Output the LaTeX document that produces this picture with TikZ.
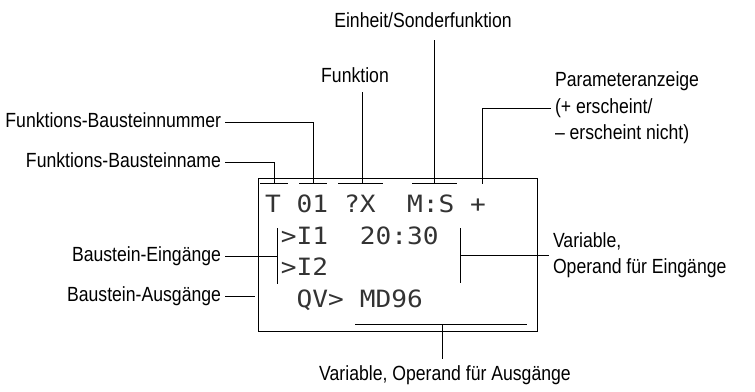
\documentclass[tikz,border=0pt]{standalone}
\usepackage{fontspec}
\usepackage{tikz}
\usetikzlibrary{positioning}
\newfontfamily\lblfont[FakeStretch=0.86]{Liberation Sans}
\newfontfamily\lcdfont[FakeStretch=1.1]{DejaVu Sans Mono}
\definecolor{LcdInk}{HTML}{333333}

\begin{document}
\begin{tikzpicture}[x=1pt,y=-1pt,
  lbl/.style={font=\lblfont\fontsize{20.5}{26}\selectfont,inner sep=0pt,outer sep=4pt,
              text height=14.5pt,text depth=4pt},
  note/.style={font=\lblfont\fontsize{20.5}{26.5}\selectfont,inner sep=0pt,outer sep=4pt,
               align=left,anchor=west},
  lcd/.style={draw,line width=0.9pt,minimum width=279pt,minimum height=153pt,
              inner sep=0pt},
  row/.style={font=\lcdfont\fontsize{23.8}{24}\selectfont,text=LcdInk,
              anchor=base west,inner sep=0pt},
  lead/.style={line width=0.8pt}]
\useasboundingbox (0,0) rectangle (755,391);
\node[lcd] (disp) at (397.5,254.5) {};
\node[row] (r1) at (265,212) {T~01~?X~~M:S~+};
\node[row] (r2) at (265,244) {~>I1~~20:30};
\node[row] (r3) at (265,275) {~>I2};
\node[row] (r4) at (265,307) {~~QV>~MD96};
\draw[lead] (260,183.5) -- (288,183.5) (299,183.5) -- (327,183.5)
            (338,183.5) -- (383,183.5) (412,183.5) -- (457,183.5);
\draw[lead] (277,228) -- (277,284) (460,228) -- (460,283) (355,324) -- (527,324);
\coordinate (cT) at (274,183.5);
\coordinate (cNr) at (313,183.5);
\coordinate (cFn) at (362,183.5);
\coordinate (cMS) at (434,183.5);
\coordinate (cPl) at (482,183.5);
\coordinate (cIn) at (277,256);
\coordinate (cOut) at (255,296);
\coordinate (cVar) at (460,255);
\coordinate (cAus) at (442,324);
\node[lbl,anchor=east] (bname) at (225,162) {Funktions-Bausteinname};
\node[lbl,anchor=east] (bnum) at (225,122.5) {Funktions-Bausteinnummer};
\node[lbl,outer ysep=6pt] (fkt) at (355,77) {Funktion};
\node[lbl,outer ysep=9pt] (einh) at (423,22) {Einheit/Sonderfunktion};
\node[note] (param) at (551,108) {Parameteranzeige\\(+ erscheint/\\– erscheint nicht)};
\node[lbl,left=52pt of cIn] (ein) {Baustein-Eingänge};
\node[lbl,left=30pt of cOut] (aus) {Baustein-Ausgänge};
\node[note,right=89pt of cVar] (vin) {Variable,\\Operand für Eingänge};
\node[lbl,outer ysep=7pt] (vaus) at (445,375) {Variable, Operand für Ausgänge};
\draw[lead] (bname.east) -| (cT);
\draw[lead] (bnum.east) -| (cNr);
\draw[lead] (fkt.south -| cFn) -- (cFn);
\draw[lead] (einh.south -| cMS) -- (cMS);
\draw[lead] (cPl) |- (param.west);
\draw[lead] (ein) -- (cIn);
\draw[lead] (aus) -- (cOut);
\draw[lead] (cVar) -- (vin);
\draw[lead] (cAus) -- (vaus.north -| cAus);
\end{tikzpicture}
\end{document}
